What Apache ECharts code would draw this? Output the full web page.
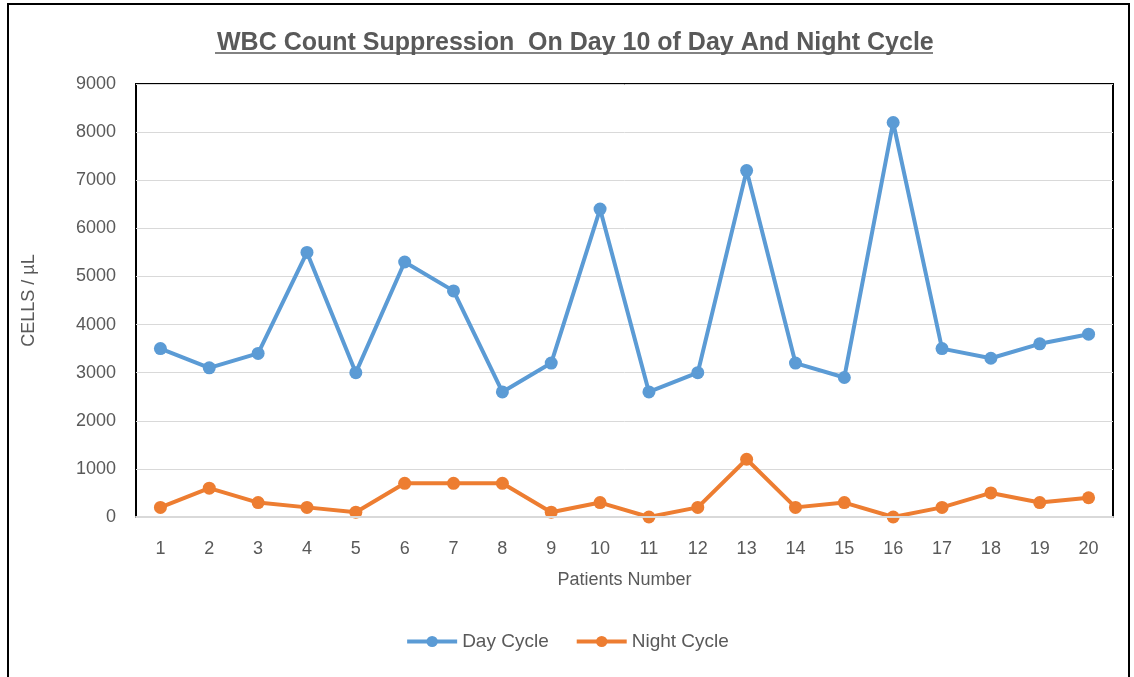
<!DOCTYPE html>
<html>
<head>
<meta charset="utf-8">
<script src="https://cdn.jsdelivr.net/npm/echarts@6/dist/echarts.min.js"></script>
<style>
  html, body { margin: 0; padding: 0; background: #fff; }
  #chart { width: 1134px; height: 677px; }
</style>
</head>
<body>
<div id="chart"></div>
<script>
var patients = ['1', '2', '3', '4', '5', '6', '7', '8', '9', '10', '11', '12', '13', '14', '15', '16', '17', '18', '19', '20']
var dayCycle = [3500, 3100, 3400, 5500, 3000, 5300, 4700, 2600, 3200, 6400, 2600, 3000, 7200, 3200, 2900, 8200, 3500, 3300, 3600, 3800]
var nightCycle = [200, 600, 300, 200, 100, 700, 700, 700, 100, 300, 0, 200, 1200, 200, 300, 0, 200, 500, 300, 400]

var font = '"Liberation Sans", Arial, sans-serif'
var grey = '#595959'
var myChart = echarts.init(document.getElementById('chart'))

myChart.setOption({
  animation: false,
  title: {
    text: 'WBC Count Suppression  On Day 10 of Day And Night Cycle',
    left: 212,
    top: 26,
    textStyle: { fontFamily: font, fontSize: 25, fontWeight: 'bold', color: grey }
  },
  legend: {
    bottom: 21,
    left: 'center',
    itemWidth: 50,
    itemHeight: 14,
    itemGap: 26,
    lineStyle: { width: 4 },
    textStyle: { fontFamily: font, fontSize: 19, color: grey },
    data: ['Day Cycle', 'Night Cycle']
  },
  grid: {
    left: 136,
    right: 21,
    top: 84,
    bottom: 160,
    show: true,
    borderColor: '#000',
    borderWidth: 2
  },
  xAxis: {
    type: 'category',
    data: patients,
    boundaryGap: true,
    name: 'Patients Number',
    nameLocation: 'middle',
    nameGap: 54,
    nameTextStyle: { fontFamily: font, fontSize: 18, color: grey },
    axisLine: { show: true, lineStyle: { color: '#d9d9d9', width: 2 } },
    axisTick: { show: false },
    axisLabel: { fontFamily: font, fontSize: 18, color: grey, margin: 23 },
    z: 5
  },
  yAxis: {
    type: 'value',
    min: 0,
    max: 9000,
    interval: 1000,
    name: 'CELLS / µL',
    nameLocation: 'middle',
    nameGap: 98,
    nameTextStyle: { fontFamily: font, fontSize: 18, color: grey },
    axisLine: { show: false },
    axisTick: { show: false },
    axisLabel: { fontFamily: font, fontSize: 18, color: grey, margin: 20, formatter: function (v) { return String(v) } },
    splitLine: { lineStyle: { color: '#d9d9d9', width: 1 } }
  },
  series: [
    {
      name: 'Day Cycle',
      type: 'line',
      data: dayCycle,
      symbol: 'circle',
      symbolSize: 13,
      itemStyle: { color: '#5b9bd5' },
      lineStyle: { color: '#5b9bd5', width: 4 }
    },
    {
      name: 'Night Cycle',
      type: 'line',
      data: nightCycle,
      symbol: 'circle',
      symbolSize: 13,
      itemStyle: { color: '#ed7d31' },
      lineStyle: { color: '#ed7d31', width: 4 }
    }
  ],
  graphic: [
    // underline under title
    { type: 'line', shape: { x1: 215, y1: 53, x2: 933, y2: 53 }, style: { stroke: grey, lineWidth: 1.5 } },
    // outer frame
    { type: 'polyline', shape: { points: [[8, 677], [8, 4], [1129, 4], [1129, 677]] }, style: { stroke: '#000', lineWidth: 2, fill: null } }
  ]
})
</script>
</body>
</html>
